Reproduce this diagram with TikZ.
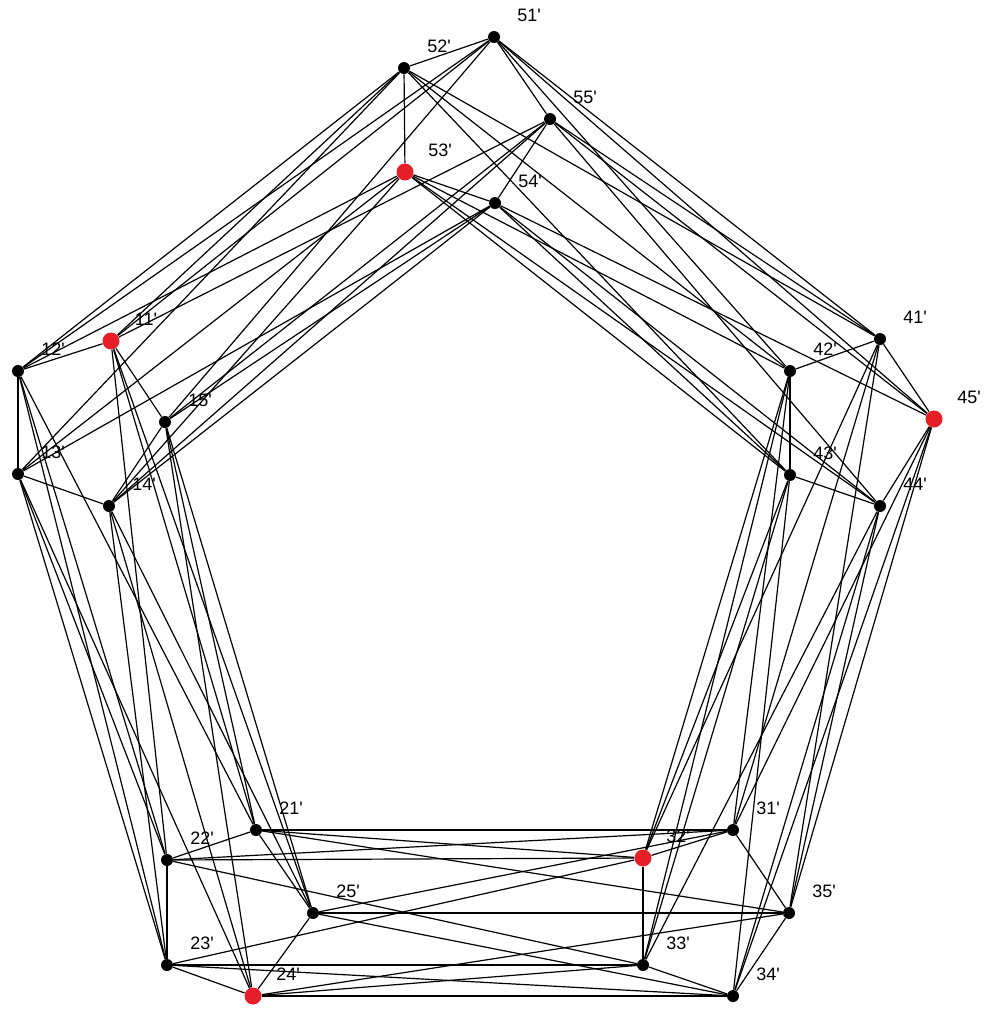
\documentclass[tikz,border=0pt]{standalone}
\usepackage{fontspec}
\setmainfont{Liberation Sans}[Ligatures=TeXOff]
\definecolor{dotred}{RGB}{230,30,40}
\begin{document}
\begin{tikzpicture}[x=0.5pt,y=-0.5pt,
  dot/.style={circle,fill=black,inner sep=0pt,minimum size=6pt},
  reddot/.style={circle,fill=dotred,inner sep=0pt,minimum size=8.5pt},
  lab/.style={font=\fontsize{9}{10}\selectfont,inner sep=0pt},
  edgeline/.style={line width=0.6pt,black}]
\useasboundingbox (0,0) rectangle (986,1013);
% vertices: cluster/index, position, style
\foreach \n/\x/\y/\s in {
  51/494/37/dot, 52/404/68/dot, 53/405/172/reddot, 54/495/203/dot, 55/550/119/dot,
  11/111/341/reddot, 12/18/371/dot, 13/18/474/dot, 14/109/506/dot, 15/165/422/dot,
  21/256/830/dot, 22/167/860/dot, 23/167/965/dot, 24/253/996/reddot, 25/313/913/dot,
  31/733/830/dot, 32/643/858/reddot, 33/643/965/dot, 34/733/996/dot, 35/789/913/dot,
  41/880/339/dot, 42/790/371/dot, 43/790/475/dot, 44/880/506/dot, 45/934/419/reddot}
  {\node[\s] (n\n) at (\x,\y) {};
   \node[lab] (l\n) at (\x+35,\y-22) {\n'};}
% edges inside each cluster (5-cycle)
\foreach \c in {1,...,5}
  \foreach \a in {1,...,5} {
    \pgfmathtruncatemacro\b{mod(\a,5)+1}
    \draw[edgeline] (n\c\a) -- (n\c\b);
  }
% edges between neighbouring clusters
\foreach \c/\d in {1/2,2/3,3/4,4/5,5/1}
  \foreach \a in {1,...,5}
    \foreach \k in {-1,0,1} {
      \pgfmathtruncatemacro\b{mod(\a+\k+4,5)+1}
      \draw[edgeline] (n\c\a) -- (n\d\b);
    }
\end{tikzpicture}
\end{document}
